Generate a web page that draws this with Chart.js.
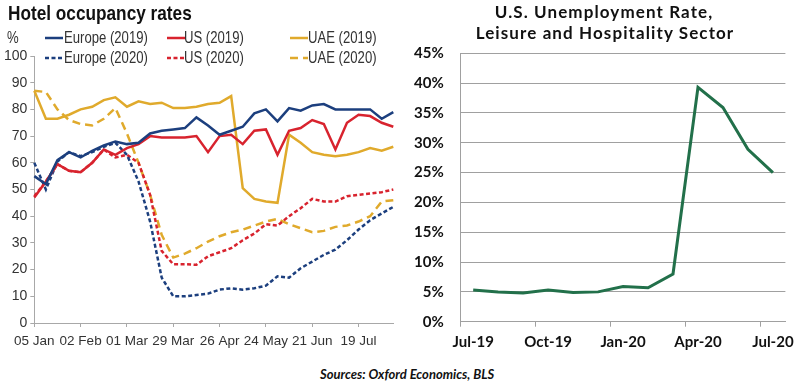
<!DOCTYPE html>
<html>
<head>
<meta charset="utf-8">
<script src="https://cdn.jsdelivr.net/npm/chart.js@4"></script>
<style>
  html, body { margin: 0; padding: 0; background: #fff; }
  body { width: 800px; height: 383px; position: relative; overflow: hidden; }
  canvas { position: absolute; top: 0; }
  .narrow { font-family: 'Liberation Sans', Arial, sans-serif; color: #333; position: absolute; white-space: nowrap; transform-origin: 0 0; transform: scaleX(0.82); }
  .cal { font-family: Lato, 'Open Sans', sans-serif; font-weight: 700; color: #111; position: absolute; white-space: nowrap; }
  .leg { position: absolute; font-size: 16px; line-height: 16px; }
</style>
</head>
<body>
<canvas id="hotelChart" width="400" height="360" style="left:0"></canvas>
<canvas id="jobChart" width="400" height="360" style="left:400px"></canvas>

<div class="narrow" style="left:8px; top:2px; font-size:21px; line-height:21px; font-weight:bold; color:#111">Hotel occupancy rates</div>
<div class="narrow" style="left:7px; top:30px; font-size:16px; line-height:16px">%</div>
<div id="legend"></div>

<div class="cal" style="left:454px; width:300px; text-align:center; top:3px; font-size:17px; line-height:17px; letter-spacing:1.1px">U.S. Unemployment Rate,</div>
<div class="cal" style="left:455px; width:300px; text-align:center; top:24px; font-size:17px; line-height:17px; letter-spacing:1.1px">Leisure and Hospitality Sector</div>
<div class="cal" style="left:320px; top:368px; font-size:13px; line-height:13px; font-style:italic">Sources: Oxford Economics, BLS</div>

<script>
// 酒店入住率（每周）
var weeks = ['05 Jan','12 Jan','19 Jan','26 Jan','02 Feb','09 Feb','16 Feb','23 Feb',
  '01 Mar','08 Mar','15 Mar','22 Mar','29 Mar','05 Apr','12 Apr','19 Apr',
  '26 Apr','03 May','10 May','17 May','24 May','31 May','07 Jun','14 Jun',
  '21 Jun','28 Jun','05 Jul','12 Jul','19 Jul','26 Jul','02 Aug','09 Aug']
var europe2019 = [55,52,61,64,62,64.5,66.5,68,67,67.5,71,72,72.5,73,77,74,70.5,72,73.5,78.5,80,75.5,80.5,79.5,81.5,82,80,80,80,80,76.5,79]
var us2019 = [47,53,59.5,57,56.5,60,65,63,65.5,67,70,69.5,69.5,69.5,70,64,70,70.5,67,72,72.5,63,72,73,76,74.5,65,75,78,77.5,75,73.5]
var uae2019 = [87,76.5,76.5,78,80,81,83.5,84.5,81,83,82,82.5,80.5,80.5,81,82,82.5,85,50.5,46.5,45.5,45,70.5,67.5,64,63,62.5,63,64,65.5,64.5,66]
var europe2020 = [60,50,60.5,64,62.5,64,66,67.5,63,53,38,17,10,10,10.5,11,12.5,13,12.5,13,14,17.5,17,20.5,23,25.5,27.5,31,35,38.5,41,43.5]
var us2020 = [47.5,53,59.5,57,56.5,60,65,62,63,60,48,27,22,22,21.8,25,26.5,28,31,33.5,37,36.5,40,43,46.5,45.5,45.5,47.5,48,48.5,49,50]
var uae2020 = [87,86.5,80,76,74.5,74,76.5,80.5,71,60,48,33,24.5,26,28,30.5,32.5,34,35,36.5,38,39,37,35.5,34,34.5,36,36.5,38,40,45.5,46]

// 休闲和酒店业失业率（每月）
var months = ['Jul-19','Aug-19','Sep-19','Oct-19','Nov-19','Dec-19','Jan-20','Feb-20','Mar-20','Apr-20','May-20','Jun-20','Jul-20']
var unemployment = [5.3,5.0,4.8,5.3,4.9,5.0,5.9,5.7,8.0,39.3,35.9,28.9,25.0]

var NAVY = '#1c3f7e', RED = '#d8232e', GOLD = '#e0aa2c', GREEN = '#22704a'
var SANS = "'Liberation Sans', Arial, sans-serif"

var hotelSeries = [
  { label: 'Europe (2019)', data: europe2019, color: NAVY, dash: [] },
  { label: 'US (2019)', data: us2019, color: RED, dash: [] },
  { label: 'UAE (2019)', data: uae2019, color: GOLD, dash: [] },
  { label: 'Europe (2020)', data: europe2020, color: NAVY, dash: [4, 2.5] },
  { label: 'US (2020)', data: us2020, color: RED, dash: [4, 2.5] },
  { label: 'UAE (2020)', data: uae2020, color: GOLD, dash: [8, 5] }
]

// 图例：三列两行
var legX = [[45, 63.5], [167, 184], [290, 308]]
var legY = [30, 50]
var legHtml = ''
hotelSeries.forEach(function (s, i) {
  var col = i % 3, row = Math.floor(i / 3)
  var x1 = legX[col][0], tx = legX[col][1]
  var dash = s.dash.length ? ' stroke-dasharray="' + s.dash.join(',') + '"' : ''
  legHtml += '<svg width="19" height="16" style="position:absolute;left:' + x1 + 'px;top:' + legY[row] + 'px">' +
    '<line x1="0" y1="8" x2="18" y2="8" stroke="' + s.color + '" stroke-width="2.5"' + dash + '/></svg>'
  legHtml += '<div class="narrow leg" style="left:' + tx + 'px;top:' + legY[row] + 'px">' + s.label + '</div>'
})
document.getElementById('legend').innerHTML = legHtml

var hotelChart = new Chart(document.getElementById('hotelChart').getContext('2d'), {
  type: 'line',
  data: {
    labels: weeks,
    datasets: hotelSeries.map(function (s) {
      return {
        label: s.label, data: s.data, borderColor: s.color, backgroundColor: s.color,
        borderDash: s.dash, borderWidth: 2.5, pointRadius: 0, tension: 0, fill: false
      }
    })
  },
  options: {
    responsive: false,
    animation: false,
    layout: { padding: { top: 56, right: 6.7, left: 0, bottom: 0 } },
    plugins: { legend: { display: false }, title: { display: false }, tooltip: { enabled: false } },
    scales: {
      x: {
        offset: false,
        afterFit: function (scale) { scale.height = 37 },
        border: { color: '#a8a8a8', width: 1 },
        grid: {
          drawOnChartArea: false, drawTicks: true, tickLength: 4,
          color: function (c) { return c.index % 4 === 0 ? '#a8a8a8' : 'rgba(0,0,0,0)' },
          tickColor: function (c) { return c.index % 4 === 0 ? '#a8a8a8' : 'rgba(0,0,0,0)' }
        },
        ticks: {
          autoSkip: false, maxRotation: 0, minRotation: 0, padding: 6,
          color: '#333', font: { family: SANS, size: 13.5 },
          callback: function (v, i) { return i % 4 === 0 ? weeks[i] : '' }
        }
      },
      y: {
        min: 0, max: 100,
        afterFit: function (scale) { scale.width = 34.3 },
        border: { color: '#a8a8a8', width: 1 },
        grid: { drawOnChartArea: false, drawTicks: true, tickLength: 4, color: '#a8a8a8' },
        ticks: { stepSize: 10, padding: 3, color: '#333', font: { family: SANS, size: 14 } }
      }
    }
  }
})

var jobChart = new Chart(document.getElementById('jobChart').getContext('2d'), {
  type: 'line',
  data: {
    labels: months,
    datasets: [{
      label: 'Unemployment rate', data: unemployment, borderColor: GREEN, backgroundColor: GREEN,
      borderWidth: 3, pointRadius: 0, tension: 0, fill: false
    }]
  },
  options: {
    responsive: false,
    animation: false,
    layout: { padding: { top: 53.3, right: 10, left: 0, bottom: 0 } },
    plugins: { legend: { display: false }, title: { display: false }, tooltip: { enabled: false } },
    scales: {
      x: {
        offset: true,
        afterFit: function (scale) { scale.height = 38.3 },
        border: { color: '#a0a0a0', width: 1 },
        grid: {
          offset: true, drawOnChartArea: false, drawTicks: true, tickLength: 5,
          color: function (c) { return c.index % 3 === 0 ? '#a0a0a0' : 'rgba(0,0,0,0)' },
          tickColor: function (c) { return c.index % 3 === 0 ? '#a0a0a0' : 'rgba(0,0,0,0)' }
        },
        ticks: {
          autoSkip: false, maxRotation: 0, minRotation: 0, padding: 6,
          color: '#111', font: { family: 'Lato', weight: 'bold', size: 15 },
          callback: function (v, i) { return i % 3 === 0 ? months[i] : '' }
        }
      },
      y: {
        min: 0, max: 45,
        afterFit: function (scale) { scale.width = 60.7 },
        border: { color: '#a0a0a0', width: 1 },
        grid: { drawTicks: false, color: '#a0a0a0', lineWidth: 1 },
        ticks: {
          stepSize: 5, padding: 17, color: '#111', font: { family: 'Lato', weight: 'bold', size: 15 },
          callback: function (v) { return v + '%' }
        }
      }
    }
  }
})
</script>
</body>
</html>
